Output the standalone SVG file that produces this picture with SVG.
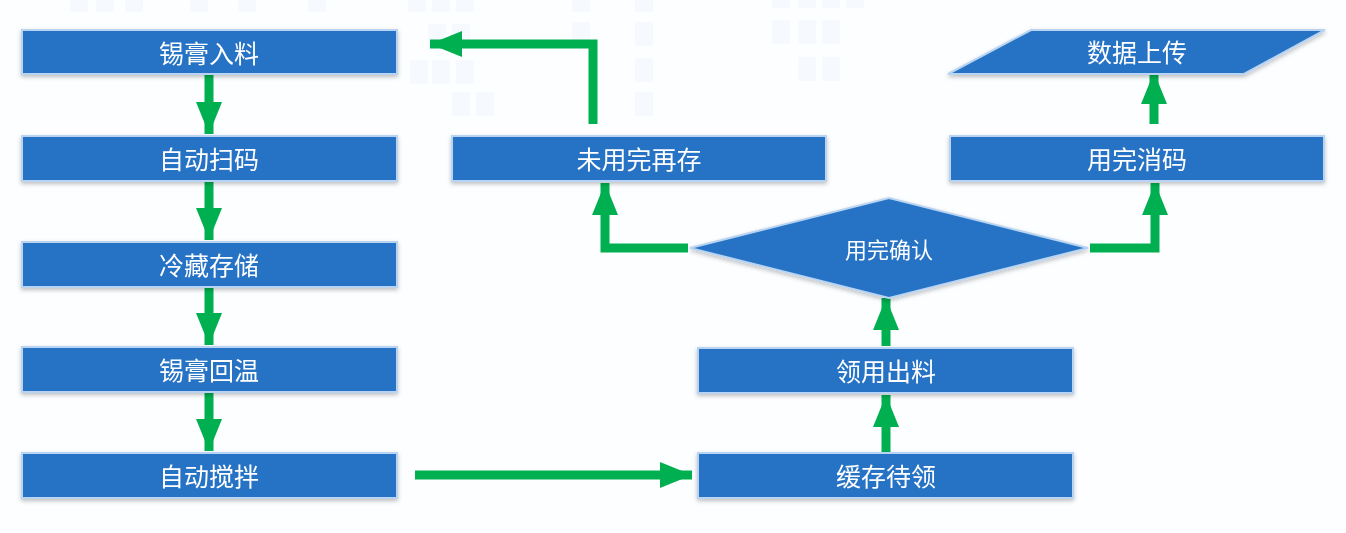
<svg xmlns="http://www.w3.org/2000/svg" width="1346" height="533" viewBox="0 0 1346 533">
<defs>
<style>
.n{fill:#2672c4;stroke:#b8d4f2;stroke-width:2}
.t{fill:#fff;font-family:"Noto Sans CJK SC",sans-serif;font-size:25px;text-anchor:middle;dominant-baseline:central}
.c{fill:none;stroke:#00b050;stroke-width:9}
.bg{fill:#f2f7fc}
</style>
<marker id="a" markerUnits="userSpaceOnUse" markerWidth="34" markerHeight="34" refX="32" refY="17" orient="auto"><path d="M0,4 L32,17 L0,30 Z" fill="#00b050"/></marker>
<filter id="s" x="-5%" y="-20%" width="110%" height="140%"><feDropShadow dx="0" dy="2" stdDeviation="2" flood-color="#000" flood-opacity="0.25"/></filter>
</defs>
<rect width="1346" height="533" fill="#fdfeff"/>
<g opacity="0.6">
<rect class="bg" x="70" y="0" width="18" height="12"/><rect class="bg" x="96" y="0" width="18" height="12"/><rect class="bg" x="125" y="0" width="18" height="12"/><rect class="bg" x="190" y="0" width="18" height="12"/><rect class="bg" x="238" y="0" width="18" height="12"/><rect class="bg" x="308" y="0" width="18" height="12"/>
<rect class="bg" x="408" y="0" width="18" height="12"/><rect class="bg" x="432" y="0" width="18" height="12"/><rect class="bg" x="456" y="0" width="18" height="12"/><rect class="bg" x="428" y="24" width="18" height="24"/><rect class="bg" x="452" y="24" width="18" height="24"/><rect class="bg" x="410" y="60" width="18" height="24"/><rect class="bg" x="432" y="60" width="18" height="24"/><rect class="bg" x="456" y="60" width="18" height="24"/><rect class="bg" x="452" y="92" width="18" height="24"/><rect class="bg" x="476" y="92" width="18" height="24"/>
<rect class="bg" x="572" y="0" width="18" height="12"/><rect class="bg" x="635" y="0" width="18" height="12"/><rect class="bg" x="572" y="22" width="18" height="24"/><rect class="bg" x="635" y="22" width="18" height="24"/><rect class="bg" x="635" y="58" width="18" height="24"/><rect class="bg" x="635" y="92" width="18" height="24"/>
<rect class="bg" x="772" y="0" width="18" height="8"/><rect class="bg" x="798" y="0" width="18" height="8"/><rect class="bg" x="822" y="0" width="18" height="8"/><rect class="bg" x="846" y="0" width="18" height="8"/><rect class="bg" x="772" y="20" width="18" height="24"/><rect class="bg" x="798" y="20" width="18" height="24"/><rect class="bg" x="822" y="20" width="18" height="24"/><rect class="bg" x="798" y="57" width="18" height="24"/><rect class="bg" x="822" y="57" width="18" height="24"/>
</g>
<g id="connectors">
<line class="c" x1="209" y1="74" x2="209" y2="134" marker-end="url(#a)"/>
<line class="c" x1="209" y1="181" x2="209" y2="240" marker-end="url(#a)"/>
<line class="c" x1="209" y1="287" x2="209" y2="345" marker-end="url(#a)"/>
<line class="c" x1="209" y1="392" x2="209" y2="451" marker-end="url(#a)"/>
<line class="c" x1="415" y1="475" x2="692" y2="475" marker-end="url(#a)"/>
<line class="c" x1="886" y1="453" x2="886" y2="395" marker-end="url(#a)"/>
<line class="c" x1="886" y1="346" x2="886" y2="298" marker-end="url(#a)"/>
<polyline class="c" points="688,248 605,248 605,183" marker-end="url(#a)"/>
<polyline class="c" points="593,124 593,44 430,44" marker-end="url(#a)"/>
<polyline class="c" points="1090,248 1155,248 1155,183" marker-end="url(#a)"/>
<line class="c" x1="1154" y1="124" x2="1154" y2="72" marker-end="url(#a)"/>
</g>
<g filter="url(#s)">
<g id="n1"><rect class="n" x="22" y="30" width="375" height="44"/><text class="t" x="209" y="52">锡膏入料</text></g>
<g id="n2"><rect class="n" x="22" y="136" width="375" height="45"/><text class="t" x="209" y="158">自动扫码</text></g>
<g id="n3"><rect class="n" x="22" y="242" width="375" height="45"/><text class="t" x="209" y="264">冷藏存储</text></g>
<g id="n4"><rect class="n" x="22" y="347" width="375" height="45"/><text class="t" x="209" y="369">锡膏回温</text></g>
<g id="n5"><rect class="n" x="22" y="453" width="375" height="45"/><text class="t" x="209" y="475">自动搅拌</text></g>
<g id="n6"><rect class="n" x="698" y="453" width="375" height="45"/><text class="t" x="886" y="475">缓存待领</text></g>
<g id="n7"><rect class="n" x="698" y="348" width="375" height="45"/><text class="t" x="886" y="370">领用出料</text></g>
<g id="n8"><polygon class="n" points="690,248 889,198 1088,248 889,298"/><text class="t" x="889" y="248" style="font-size:22px">用完确认</text></g>
<g id="n9"><rect class="n" x="452" y="136" width="374" height="45"/><text class="t" x="639" y="158">未用完再存</text></g>
<g id="n10"><rect class="n" x="950" y="136" width="374" height="45"/><text class="t" x="1137" y="158">用完消码</text></g>
<g id="n11"><polygon class="n" points="948,74 1031,30 1325,30 1244,74"/><text class="t" x="1137" y="51">数据上传</text></g>
</g>
</svg>
